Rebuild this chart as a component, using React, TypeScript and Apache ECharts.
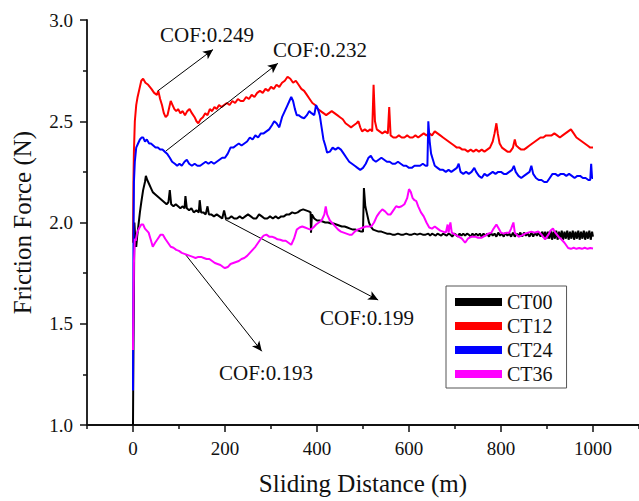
import React, { useEffect, useRef } from "react";
import * as echarts from "echarts";

const SERIES_NAMES = ["CT00", "CT12", "CT24", "CT36"];
const X_LABELS = [0, 200, 400, 600, 800, 1000];
const X_MINOR = [-100, 100, 300, 500, 700, 900, 1100];

const ct00: [number, number][] = [
  [0, 1.0], [1, 1.4], [2, 1.65], [3, 2.0], [5, 1.92], [7, 1.88], [9, 1.93], [12, 1.99], [15, 2.05], [18, 2.1],
  [22, 2.16], [26, 2.2], [28, 2.23], [31, 2.21], [35, 2.19], [39, 2.17], [43, 2.15], [48, 2.14], [53, 2.13],
  [58, 2.12], [63, 2.11], [68, 2.1], [73, 2.09], [77, 2.1], [80, 2.16], [83, 2.09], [88, 2.08], [93, 2.09],
  [98, 2.08], [103, 2.07], [108, 2.08], [112, 2.07], [114, 2.13], [117, 2.07], [122, 2.06], [127, 2.07],
  [132, 2.05], [138, 2.06], [143, 2.05], [145, 2.11], [148, 2.05], [153, 2.05], [158, 2.04], [162, 2.08],
  [165, 2.04], [170, 2.04], [176, 2.03], [182, 2.04], [188, 2.03], [194, 2.02], [198, 2.06], [202, 2.02],
  [208, 2.02], [214, 2.03], [220, 2.02], [226, 2.02], [232, 2.03], [238, 2.02], [244, 2.03], [250, 2.04],
  [256, 2.03], [262, 2.02], [268, 2.02], [274, 2.04], [280, 2.03], [286, 2.02], [292, 2.02], [298, 2.03],
  [304, 2.02], [310, 2.03], [316, 2.02], [322, 2.03], [328, 2.03], [334, 2.04], [340, 2.04], [346, 2.05],
  [352, 2.045], [358, 2.05], [364, 2.06], [370, 2.065], [376, 2.06], [382, 2.055], [386, 2.05], [387, 1.95],
  [389, 2.04], [394, 2.02], [400, 2.01], [406, 2.01], [412, 2.005], [418, 2.0], [424, 2.0], [430, 1.995],
  [436, 1.995], [442, 1.99], [448, 1.985], [454, 1.98], [460, 1.98], [466, 1.975], [472, 1.97], [478, 1.965],
  [484, 1.965], [490, 1.96], [496, 1.955], [500, 1.955], [502, 2.17], [505, 2.08], [509, 2.04], [513, 2.0],
  [517, 1.98], [522, 1.965], [528, 1.96], [534, 1.955], [540, 1.955], [546, 1.95], [552, 1.945], [558, 1.945],
  [564, 1.94], [570, 1.94], [576, 1.945], [582, 1.94], [588, 1.94], [594, 1.945], [600, 1.94], [606, 1.94],
  [612, 1.945], [618, 1.94], [624, 1.945], [630, 1.94], [636, 1.94], [642, 1.945], [646, 1.935], [650, 1.945],
  [654, 1.94], [658, 1.935], [662, 1.945], [666, 1.94], [670, 1.935], [674, 1.945], [678, 1.94], [682, 1.935],
  [686, 1.945], [690, 1.94], [694, 1.93], [698, 1.945], [702, 1.94], [706, 1.93], [710, 1.945], [714, 1.935],
  [718, 1.945], [722, 1.935], [726, 1.945], [730, 1.94], [734, 1.93], [738, 1.945], [742, 1.935], [746, 1.945],
  [750, 1.935], [754, 1.945], [758, 1.93], [762, 1.945], [766, 1.935], [770, 1.945], [774, 1.93], [778, 1.95],
  [782, 1.935], [786, 1.945], [790, 1.93], [794, 1.95], [798, 1.935], [802, 1.945], [806, 1.93], [810, 1.95],
  [814, 1.935], [818, 1.945], [822, 1.93], [826, 1.95], [830, 1.93], [834, 1.945], [838, 1.935], [842, 1.95],
  [846, 1.93], [850, 1.95], [854, 1.935], [858, 1.945], [862, 1.93], [866, 1.95], [870, 1.93], [874, 1.95],
  [878, 1.935], [882, 1.95], [886, 1.93], [890, 1.955], [893, 1.925], [896, 1.955], [899, 1.92], [902, 1.955],
  [905, 1.92], [908, 1.96], [911, 1.915], [914, 1.955], [917, 1.92], [920, 1.96], [923, 1.915], [926, 1.955],
  [929, 1.92], [932, 1.96], [935, 1.915], [938, 1.955], [941, 1.92], [944, 1.96], [947, 1.915], [950, 1.955],
  [953, 1.92], [956, 1.96], [959, 1.915], [962, 1.955], [965, 1.92], [968, 1.96], [971, 1.915], [974, 1.955],
  [977, 1.92], [980, 1.96], [983, 1.915], [986, 1.955], [989, 1.92], [992, 1.96], [995, 1.915], [998, 1.955],
  [1000, 1.93],
];

const ct12: [number, number][] = [
  [0, 1.9], [1, 2.2], [2, 2.35], [4, 2.5], [7, 2.58], [10, 2.62], [14, 2.66], [18, 2.7], [22, 2.71], [27, 2.69],
  [33, 2.68], [40, 2.66], [46, 2.64], [52, 2.63], [55, 2.65], [59, 2.61], [63, 2.58], [67, 2.54], [71, 2.52],
  [75, 2.53], [79, 2.57], [82, 2.6], [86, 2.58], [90, 2.56], [94, 2.55], [98, 2.56], [103, 2.54], [108, 2.55],
  [113, 2.53], [118, 2.55], [123, 2.56], [128, 2.54], [134, 2.52], [138, 2.5], [142, 2.49], [147, 2.51],
  [152, 2.52], [157, 2.54], [162, 2.53], [167, 2.56], [172, 2.55], [177, 2.57], [182, 2.56], [187, 2.58],
  [192, 2.57], [198, 2.58], [204, 2.59], [210, 2.58], [216, 2.6], [222, 2.59], [228, 2.61], [234, 2.6],
  [240, 2.6], [246, 2.62], [252, 2.61], [258, 2.63], [264, 2.62], [270, 2.64], [276, 2.65], [282, 2.64],
  [288, 2.66], [294, 2.65], [300, 2.67], [306, 2.66], [312, 2.68], [318, 2.67], [324, 2.69], [330, 2.7],
  [336, 2.72], [342, 2.71], [348, 2.69], [354, 2.7], [360, 2.68], [366, 2.66], [372, 2.65], [378, 2.63],
  [384, 2.61], [390, 2.59], [396, 2.58], [402, 2.56], [408, 2.55], [414, 2.54], [420, 2.53], [426, 2.54],
  [432, 2.55], [438, 2.54], [444, 2.53], [450, 2.52], [456, 2.51], [462, 2.49], [468, 2.48], [474, 2.47],
  [480, 2.48], [486, 2.49], [490, 2.5], [494, 2.47], [498, 2.45], [504, 2.46], [510, 2.45], [516, 2.46],
  [520, 2.45], [523, 2.68], [526, 2.5], [530, 2.46], [536, 2.45], [542, 2.44], [548, 2.45], [554, 2.44],
  [557, 2.57], [560, 2.43], [566, 2.42], [572, 2.42], [578, 2.43], [584, 2.42], [590, 2.42], [596, 2.43],
  [602, 2.42], [608, 2.42], [614, 2.43], [620, 2.42], [626, 2.43], [632, 2.44], [638, 2.43], [644, 2.44],
  [650, 2.43], [656, 2.45], [662, 2.44], [668, 2.43], [674, 2.42], [680, 2.41], [686, 2.4], [692, 2.39],
  [698, 2.38], [704, 2.37], [710, 2.37], [716, 2.36], [722, 2.36], [728, 2.35], [734, 2.36], [740, 2.35],
  [746, 2.36], [752, 2.35], [758, 2.36], [764, 2.35], [770, 2.36], [776, 2.37], [782, 2.4], [786, 2.44],
  [790, 2.49], [793, 2.44], [797, 2.39], [802, 2.37], [808, 2.36], [814, 2.35], [820, 2.35], [826, 2.37],
  [830, 2.41], [833, 2.38], [838, 2.37], [844, 2.36], [850, 2.36], [856, 2.37], [862, 2.38], [868, 2.39],
  [874, 2.4], [880, 2.41], [886, 2.42], [892, 2.42], [898, 2.43], [904, 2.43], [910, 2.43], [916, 2.44],
  [922, 2.43], [928, 2.42], [934, 2.43], [940, 2.44], [946, 2.45], [952, 2.46], [958, 2.44], [964, 2.42],
  [970, 2.41], [976, 2.4], [982, 2.39], [988, 2.38], [994, 2.37], [1000, 2.37],
];

const ct24: [number, number][] = [
  [0, 1.17], [1, 1.9], [2, 2.2], [4, 2.3], [7, 2.37], [11, 2.39], [15, 2.41], [19, 2.42], [22, 2.42], [26, 2.4],
  [30, 2.41], [35, 2.39], [39, 2.39], [44, 2.38], [49, 2.37], [54, 2.37], [59, 2.36], [64, 2.36], [69, 2.35],
  [74, 2.34], [80, 2.32], [85, 2.3], [91, 2.29], [96, 2.28], [101, 2.29], [106, 2.28], [112, 2.3], [117, 2.31],
  [122, 2.29], [128, 2.28], [134, 2.29], [140, 2.28], [146, 2.28], [152, 2.29], [158, 2.3], [164, 2.29],
  [170, 2.3], [176, 2.29], [182, 2.3], [188, 2.31], [194, 2.32], [200, 2.32], [206, 2.34], [212, 2.37],
  [218, 2.37], [224, 2.38], [230, 2.39], [236, 2.38], [242, 2.39], [248, 2.4], [254, 2.42], [260, 2.41],
  [266, 2.43], [272, 2.42], [278, 2.44], [284, 2.44], [290, 2.45], [296, 2.46], [302, 2.48], [307, 2.5],
  [312, 2.49], [318, 2.47], [324, 2.52], [330, 2.55], [336, 2.58], [340, 2.6], [344, 2.62], [348, 2.6],
  [352, 2.56], [356, 2.53], [360, 2.53], [366, 2.52], [372, 2.515], [378, 2.53], [383, 2.55], [388, 2.54],
  [394, 2.53], [398, 2.58], [402, 2.56], [406, 2.53], [410, 2.47], [414, 2.41], [418, 2.38], [422, 2.345],
  [428, 2.35], [434, 2.37], [440, 2.36], [446, 2.37], [452, 2.36], [458, 2.34], [464, 2.32], [470, 2.3],
  [476, 2.29], [482, 2.28], [488, 2.27], [494, 2.26], [500, 2.27], [506, 2.29], [512, 2.32], [517, 2.33],
  [522, 2.31], [528, 2.3], [534, 2.31], [540, 2.32], [546, 2.31], [552, 2.3], [558, 2.3], [564, 2.29],
  [570, 2.29], [576, 2.3], [582, 2.29], [588, 2.28], [594, 2.28], [600, 2.27], [606, 2.27], [612, 2.28],
  [618, 2.28], [624, 2.28], [630, 2.29], [636, 2.28], [640, 2.28], [642, 2.5], [645, 2.4], [648, 2.34],
  [652, 2.31], [656, 2.28], [662, 2.27], [668, 2.26], [674, 2.26], [680, 2.25], [686, 2.26], [692, 2.25],
  [698, 2.26], [704, 2.27], [708, 2.29], [712, 2.25], [718, 2.24], [724, 2.25], [730, 2.24], [736, 2.25],
  [742, 2.27], [746, 2.25], [752, 2.23], [758, 2.22], [764, 2.24], [770, 2.23], [776, 2.24], [782, 2.25],
  [788, 2.24], [794, 2.25], [800, 2.25], [806, 2.24], [812, 2.24], [818, 2.25], [824, 2.26], [828, 2.28],
  [832, 2.25], [838, 2.23], [844, 2.22], [850, 2.23], [856, 2.24], [862, 2.25], [866, 2.28], [870, 2.24],
  [876, 2.22], [882, 2.21], [888, 2.21], [894, 2.2], [900, 2.2], [906, 2.22], [912, 2.24], [918, 2.24],
  [924, 2.23], [930, 2.24], [936, 2.24], [942, 2.23], [948, 2.24], [954, 2.23], [960, 2.22], [966, 2.23],
  [972, 2.23], [978, 2.22], [984, 2.22], [990, 2.21], [994, 2.21], [996, 2.29], [998, 2.22], [1000, 2.22],
];

const ct36: [number, number][] = [
  [0, 1.37], [1, 1.6], [2, 1.8], [4, 1.92], [6, 1.91], [9, 1.95], [13, 1.97], [18, 1.99], [22, 1.99], [26, 1.97],
  [30, 1.96], [34, 1.95], [38, 1.92], [43, 1.88], [48, 1.9], [54, 1.92], [60, 1.94], [65, 1.94], [70, 1.92],
  [76, 1.9], [82, 1.88], [88, 1.875], [94, 1.865], [100, 1.86], [106, 1.85], [112, 1.845], [118, 1.84],
  [124, 1.835], [130, 1.83], [136, 1.825], [142, 1.83], [148, 1.83], [154, 1.825], [160, 1.82], [166, 1.82],
  [172, 1.81], [178, 1.8], [184, 1.795], [190, 1.79], [196, 1.78], [200, 1.775], [206, 1.78], [212, 1.795],
  [218, 1.8], [224, 1.805], [230, 1.81], [236, 1.82], [242, 1.825], [248, 1.835], [254, 1.85], [260, 1.865],
  [266, 1.88], [272, 1.9], [278, 1.92], [284, 1.935], [290, 1.94], [296, 1.93], [302, 1.93], [308, 1.925],
  [314, 1.917], [320, 1.915], [326, 1.91], [332, 1.91], [338, 1.9], [344, 1.89], [350, 1.92], [356, 1.965],
  [362, 1.975], [368, 1.98], [374, 1.975], [380, 1.97], [386, 1.965], [392, 1.975], [398, 1.99], [404, 2.0],
  [410, 2.01], [416, 2.04], [419, 2.08], [422, 2.04], [428, 2.01], [434, 1.995], [440, 1.98], [446, 1.965],
  [452, 1.955], [458, 1.95], [464, 1.945], [470, 1.94], [476, 1.94], [482, 1.955], [488, 1.965], [494, 1.97],
  [500, 1.975], [506, 1.98], [512, 1.98], [518, 1.98], [524, 2.0], [530, 2.03], [536, 2.05], [542, 2.065],
  [548, 2.055], [554, 2.04], [560, 2.04], [566, 2.06], [572, 2.08], [578, 2.075], [584, 2.08], [590, 2.09],
  [596, 2.12], [600, 2.165], [604, 2.15], [608, 2.12], [612, 2.11], [616, 2.105], [620, 2.08], [626, 2.05],
  [632, 2.03], [638, 2.0], [644, 1.975], [650, 1.97], [656, 1.98], [662, 1.97], [668, 1.96], [674, 1.955],
  [680, 1.95], [684, 1.99], [686, 1.95], [690, 2.0], [693, 1.95], [700, 1.94], [708, 1.93], [715, 1.92],
  [722, 1.9], [728, 1.92], [736, 1.93], [744, 1.93], [750, 1.925], [758, 1.925], [766, 1.935], [772, 1.945],
  [779, 1.95], [784, 1.97], [790, 1.99], [795, 1.97], [800, 1.95], [806, 1.945], [812, 1.95], [818, 1.95],
  [822, 1.97], [827, 2.0], [830, 1.95], [838, 1.93], [845, 1.935], [852, 1.945], [859, 1.95], [866, 1.955],
  [873, 1.95], [881, 1.956], [888, 1.94], [896, 1.917], [903, 1.94], [908, 1.96], [913, 1.97], [918, 1.95],
  [925, 1.93], [931, 1.917], [938, 1.9], [946, 1.874], [952, 1.87], [958, 1.875], [964, 1.87], [970, 1.874],
  [976, 1.87], [982, 1.875], [988, 1.87], [994, 1.874], [1000, 1.872],
];

const SERIES_DATA = [ct00, ct12, ct24, ct36];
const SERIES_COLORS = ["#000000", "#ff0000", "#0000ff", "#ff00ff"];

// annotation arrows: [startX, startY, endX, endY] in data units, and labels
const ARROWS: [number, number, number, number][] = [
  [54, 2.65, 174, 2.854],
  [72, 2.354, 315, 2.786],
  [200, 2.015, 533, 1.617],
  [113, 1.845, 280, 1.364],
];
const COF_LABELS = ["COF:0.249", "COF:0.232", "COF:0.199", "COF:0.193"];
const COF_POS: [number, number][] = [
  [160, 35],
  [273, 50],
  [320, 318],
  [219, 373],
];

const FONT = "Liberation Serif";

export default function App() {
  const ref = useRef<HTMLDivElement>(null);
  useEffect(() => {
    if (!ref.current) return;
    const chart = echarts.init(ref.current, undefined, { renderer: "svg" });
    const series: any[] = SERIES_NAMES.map((name, i) => ({
      name,
      type: "line",
      data: SERIES_DATA[i],
      showSymbol: false,
      symbol: "none",
      color: SERIES_COLORS[i],
      lineStyle: { color: SERIES_COLORS[i], width: 2 },
      z: 2 + i,
    }));
    series.push({
      name: "annotations",
      type: "line",
      data: [],
      markLine: {
        silent: true,
        symbol: ["none", "arrow"],
        symbolSize: [7, 10],
        label: { show: false },
        lineStyle: { color: "#000", width: 1, type: "solid" },
        data: ARROWS.map((a) => [{ coord: [a[0], a[1]] }, { coord: [a[2], a[3]] }]),
      },
    });
    chart.setOption({
      animation: false,
      backgroundColor: "#fff",
      textStyle: { fontFamily: FONT },
      grid: { left: 87, right: 0, top: 20, bottom: 69 },
      legend: {
        data: SERIES_NAMES,
        orient: "vertical",
        left: 446,
        top: 286,
        icon: "rect",
        itemWidth: 47,
        itemHeight: 8,
        itemGap: 4,
        padding: [6, 14, 4, 9],
        borderColor: "#555",
        borderWidth: 1,
        backgroundColor: "#fff",
        textStyle: { fontFamily: FONT, fontSize: 20, color: "#111" },
      },
      xAxis: [
        {
          type: "value",
          min: -100,
          max: 1100,
          interval: 100,
          name: "Sliding Distance (m)",
          nameLocation: "middle",
          nameGap: 46,
          nameTextStyle: { fontFamily: FONT, fontSize: 25, color: "#111" },
          splitLine: { show: false },
          axisLine: { show: true, onZero: false, lineStyle: { color: "#111", width: 1.8 } },
          axisTick: { show: true, length: 7, customValues: X_LABELS, lineStyle: { color: "#111", width: 1.5 } },
          axisLabel: {
            customValues: X_LABELS,
            margin: 14,
            fontFamily: FONT,
            fontSize: 19,
            color: "#111",
            formatter: (v: number) => String(v),
          },
        },
        {
          type: "value",
          min: -100,
          max: 1100,
          interval: 100,
          position: "bottom",
          splitLine: { show: false },
          axisLine: { show: false },
          axisTick: { show: true, length: 4, customValues: X_MINOR, lineStyle: { color: "#111", width: 1.5 } },
          axisLabel: { show: false },
        },
      ],
      yAxis: {
        type: "value",
        min: 1,
        max: 3,
        interval: 0.5,
        name: "Friction Force (N)",
        nameLocation: "middle",
        nameGap: 52,
        nameTextStyle: { fontFamily: FONT, fontSize: 25, color: "#111" },
        splitLine: { show: false },
        axisLine: { show: true, onZero: false, lineStyle: { color: "#111", width: 1.8 } },
        axisTick: { show: true, length: 7, lineStyle: { color: "#111", width: 1.5 } },
        minorTick: { show: true, splitNumber: 2, length: 4, lineStyle: { color: "#111", width: 1.5 } },
        axisLabel: {
          margin: 14,
          fontFamily: FONT,
          fontSize: 19,
          color: "#111",
          formatter: (v: number) => v.toFixed(1),
        },
      },
      graphic: COF_LABELS.map((t, i) => ({
        type: "text",
        left: COF_POS[i][0],
        top: COF_POS[i][1] - 11,
        style: { text: t, fontFamily: FONT, fontSize: 21, fill: "#111" },
        z: 10,
      })),
      series,
    });
    return () => chart.dispose();
  }, []);
  return (
    <div
      ref={ref}
      style={{ position: "fixed", left: 0, top: 0, width: 639, height: 501, background: "#fff" }}
    />
  );
}
